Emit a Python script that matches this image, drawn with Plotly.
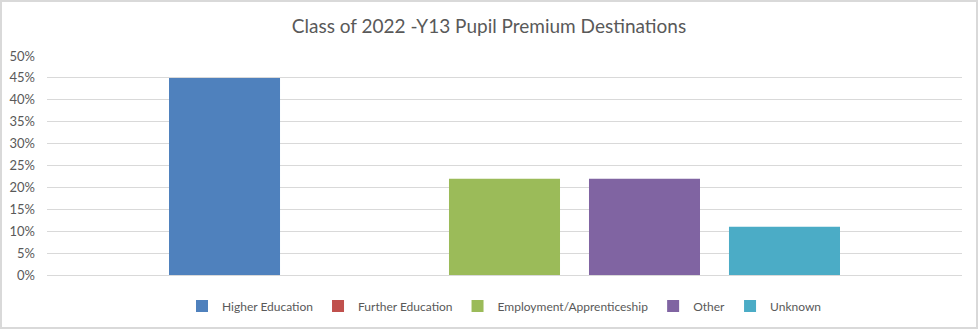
import plotly.graph_objects as go

series_names = ["Higher Education", "Further Education", "Employment/Apprenticeship", "Other", "Unknown"]
series_values = [0.45, 0.0, 0.22, 0.22, 0.11]
series_colors = ["#4F81BD", "#C0504D", "#9BBB59", "#8064A2", "#4BACC6"]
category = ["Class of 2022"]
title_text = "Class of 2022 -Y13 Pupil Premium Destinations"

W, H = 978, 329
L, R, T, B = 47, 16, 56, 54
pw, ph = W - L - R, H - T - B

fig = go.Figure()
for name, val, col in zip(series_names, series_values, series_colors):
    fig.add_trace(go.Bar(x=category, y=[val], name=name, marker=dict(color=col, line=dict(width=0))))

def px_x(p):
    return (p - L) / pw

def px_y(p):
    return (H - B - p) / ph

fig.update_layout(
    width=W, height=H,
    margin=dict(l=L, r=R, t=T, b=B, autoexpand=False),
    paper_bgcolor="white", plot_bgcolor="white",
    font=dict(family="Lato, Open Sans, sans-serif", color="#595959", size=13),
    title=dict(text=title_text, x=0.5, xanchor="center", y=1 - 26 / H, yanchor="middle",
               font=dict(size=19, color="#595959")),
    barmode="group", bargap=0.235, bargroupgap=0.207,
    showlegend=True,
    legend=dict(orientation="h", x=0.5, xanchor="center", y=px_y(306), yanchor="middle",
                font=dict(size=12, color="#595959"), itemwidth=30, traceorder="normal"),
    xaxis=dict(showticklabels=False, showgrid=False, showline=False, zeroline=False),
    yaxis=dict(range=[0, 0.5], dtick=0.05, tickformat=".0%", showgrid=True, gridcolor="#D9D9D9",
               gridwidth=1, zeroline=True, zerolinecolor="#D9D9D9", zerolinewidth=1,
               showline=False, ticks="", ticklabelstandoff=11,
               tickfont=dict(size=13, color="#595959")),
    shapes=[dict(type="rect", xref="paper", yref="paper",
                 x0=px_x(1), x1=px_x(977), y0=px_y(328), y1=px_y(1),
                 line=dict(color="#D9D9D9", width=2), fillcolor="rgba(0,0,0,0)", layer="below")],
)

fig.write_html("out.html")
